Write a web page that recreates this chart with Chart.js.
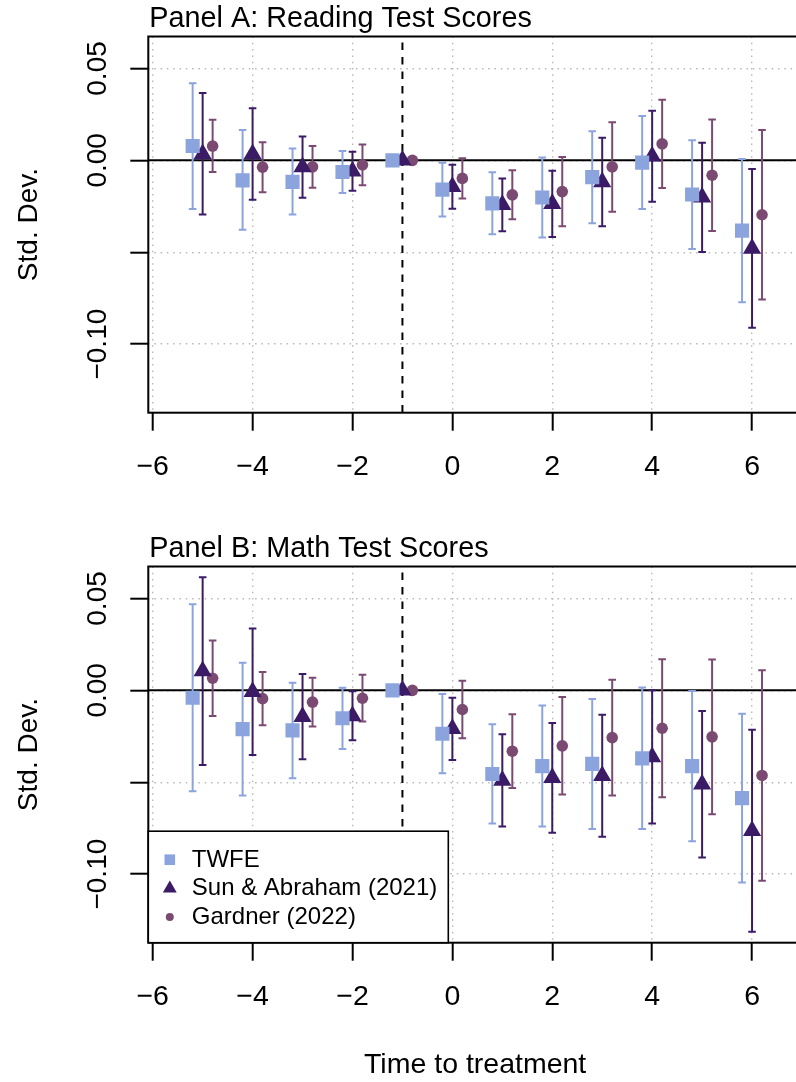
<!DOCTYPE html>
<html>
<head>
<meta charset="utf-8">
<script src="https://cdn.jsdelivr.net/npm/chart.js@4.4.1/dist/chart.umd.min.js"></script>
<style>
  html, body { margin: 0; padding: 0; background: #fff; overflow: hidden; }
  body { width: 796px; height: 1082px; position: relative; }
  .panel { position: absolute; left: 0; width: 830px; }
  #panelA { top: 0; height: 530px; }
  #panelB { top: 530px; height: 552px; }
</style>
</head>
<body>
<div class="panel" id="panelA"><canvas id="chartA" width="830" height="530"></canvas></div>
<div class="panel" id="panelB"><canvas id="chartB" width="830" height="552"></canvas></div>
<script>
// event time relative to treatment; -1 is the omitted reference period
const PERIODS = [-5, -4, -3, -2, -1, 0, 1, 2, 3, 4, 5, 6];
const REF_PERIOD = -1;

const X_TICKS = [-6, -4, -2, 0, 2, 4, 6];
const X_TICK_LABELS = ["\u22126", "\u22124", "\u22122", "0", "2", "4", "6"];
const Y_TICKS = [0.05, 0, -0.05, -0.10];
const Y_TICK_LABELS = ["0.05", "0.00", "", "\u22120.10"];

const SERIES_NAMES = ["TWFE", "Sun & Abraham (2021)", "Gardner (2022)"];

// Panel A: reading
const readTwfeEst = [0.0078, -0.0109, -0.0117, -0.0063, 0, -0.0159, -0.0234, -0.0202, -0.0091, -0.0012, -0.0186, -0.0382];
const readTwfeLo  = [-0.0264, -0.0377, -0.0295, -0.0178, null, -0.0306, -0.0402, -0.0420, -0.0342, -0.0264, -0.0482, -0.0772];
const readTwfeHi  = [0.0420, 0.0165, 0.0065, 0.0051, null, -0.0013, -0.0065, 0.0016, 0.0159, 0.0241, 0.0110, 0.0007];
const readSaEst = [0.0035, 0.0035, -0.0036, -0.0059, 0, -0.0143, -0.0242, -0.0236, -0.0118, 0.0023, -0.0201, -0.0479];
const readSaLo  = [-0.0295, -0.0214, -0.0203, -0.0165, null, -0.0263, -0.0386, -0.0417, -0.0359, -0.0225, -0.0498, -0.0911];
const readSaHi  = [0.0366, 0.0284, 0.0130, 0.0047, null, -0.0024, -0.0098, -0.0056, 0.0123, 0.0270, 0.0096, -0.0047];
const readGardEst = [0.0078, -0.0037, -0.0035, -0.0024, 0, -0.0098, -0.0188, -0.0170, -0.0035, 0.0090, -0.0081, -0.0296];
const readGardLo  = [-0.0063, -0.0174, -0.0149, -0.0136, null, -0.0207, -0.0321, -0.0359, -0.0279, -0.0150, -0.0384, -0.0757];
const readGardHi  = [0.0221, 0.0098, 0.0078, 0.0087, null, 0.0011, -0.0054, 0.0018, 0.0208, 0.0330, 0.0223, 0.0165];

// Panel B: math
const mathTwfeEst = [-0.0040, -0.0211, -0.0218, -0.0152, 0, -0.0236, -0.0455, -0.0412, -0.0400, -0.0370, -0.0412, -0.0586];
const mathTwfeLo  = [-0.0549, -0.0572, -0.0478, -0.0319, null, -0.0451, -0.0725, -0.0741, -0.0754, -0.0755, -0.0821, -0.1045];
const mathTwfeHi  = [0.0469, 0.0150, 0.0042, 0.0014, null, -0.0020, -0.0185, -0.0083, -0.0047, 0.0016, -0.0004, -0.0127];
const mathSaEst = [0.0105, -0.0007, -0.0143, -0.0139, 0, -0.0209, -0.0490, -0.0476, -0.0465, -0.0362, -0.0511, -0.0764];
const mathSaLo  = [-0.0406, -0.0351, -0.0375, -0.0272, null, -0.0379, -0.0741, -0.0775, -0.0797, -0.0725, -0.0909, -0.1313];
const mathSaHi  = [0.0616, 0.0337, 0.0089, -0.0005, null, -0.0040, -0.0239, -0.0178, -0.0132, 0.0000, -0.0112, -0.0214];
const mathGardEst = [0.0066, -0.0045, -0.0064, -0.0043, 0, -0.0104, -0.0331, -0.0302, -0.0257, -0.0206, -0.0253, -0.0463];
const mathGardLo  = [-0.0139, -0.0190, -0.0197, -0.0170, null, -0.0261, -0.0531, -0.0567, -0.0572, -0.0582, -0.0674, -0.1036];
const mathGardHi  = [0.0272, 0.0100, 0.0069, 0.0085, null, 0.0053, -0.0130, -0.0036, 0.0058, 0.0170, 0.0168, 0.0110];

// --- style ---
const FONT = "'Liberation Sans', Arial, Helvetica, sans-serif";
const COLORS = ["#8ba4de", "#3b1b65", "#7b4a73"];
const SHAPES = ["rect", "triangle", "circle"];
const RADII = [10, 10.5, 5.8];
const DODGE = [-0.2, 0, 0.2];
const GRID_COLOR = "#b8b8b8";

Chart.defaults.font.family = FONT;
Chart.defaults.color = "#000";

const toPoints = (est, lo, hi, shift) =>
  PERIODS.map((t, i) => ({ x: t + shift, y: est[i], lo: lo[i], hi: hi[i] }));

const makeDatasets = (groups) => groups.map((g, k) => ({
  label: SERIES_NAMES[k],
  data: toPoints(g[0], g[1], g[2], DODGE[k]),
  pointStyle: SHAPES[k],
  pointRadius: RADII[k],
  pointHoverRadius: RADII[k],
  backgroundColor: COLORS[k],
  borderColor: COLORS[k],
  borderWidth: 0,
  showLine: false,
}));

// zero line, reference period, error bars, frame, rotated y labels, title, legend
const panelDecor = {
  id: "panelDecor",
  beforeDatasetsDraw(chart) {
    const { ctx, chartArea: a, scales: { x, y } } = chart;
    ctx.save();
    ctx.beginPath();
    ctx.rect(a.left, a.top, a.right - a.left, a.bottom - a.top);
    ctx.clip();

    const y0 = y.getPixelForValue(0);
    ctx.strokeStyle = "#000";
    ctx.lineWidth = 2;
    ctx.beginPath();
    ctx.moveTo(a.left, y0);
    ctx.lineTo(a.right, y0);
    ctx.stroke();

    const xr = x.getPixelForValue(REF_PERIOD);
    ctx.setLineDash([7.5, 7]);
    ctx.lineDashOffset = -6;
    ctx.beginPath();
    ctx.moveTo(xr, a.top);
    ctx.lineTo(xr, a.bottom);
    ctx.stroke();
    ctx.setLineDash([]);

    chart.data.datasets.forEach((ds) => {
      ctx.strokeStyle = ds.borderColor;
      ctx.lineWidth = 2;
      ds.data.forEach((p) => {
        if (p.lo == null || p.hi == null) return;
        const px = x.getPixelForValue(p.x);
        const yl = y.getPixelForValue(p.lo);
        const yh = y.getPixelForValue(p.hi);
        const cap = 3.8;
        ctx.beginPath();
        ctx.moveTo(px, yl); ctx.lineTo(px, yh);
        ctx.moveTo(px - cap, yl); ctx.lineTo(px + cap, yl);
        ctx.moveTo(px - cap, yh); ctx.lineTo(px + cap, yh);
        ctx.stroke();
      });
    });
    ctx.restore();
  },
  afterDraw(chart, args, opts) {
    const { ctx, chartArea: a, scales: { y } } = chart;
    ctx.save();

    // frame
    ctx.strokeStyle = "#000";
    ctx.lineWidth = 2;
    ctx.strokeRect(a.left, a.top, a.right - a.left, a.bottom - a.top);

    // y tick labels, rotated like base R
    ctx.fillStyle = "#000";
    ctx.font = "28px " + FONT;
    ctx.textAlign = "center";
    ctx.textBaseline = "alphabetic";
    Y_TICKS.forEach((v, i) => {
      if (!Y_TICK_LABELS[i]) return;
      ctx.save();
      ctx.translate(a.left - 42, y.getPixelForValue(v));
      ctx.rotate(-Math.PI / 2);
      ctx.fillText(Y_TICK_LABELS[i], 0, 0);
      ctx.restore();
    });

    // panel title
    ctx.font = "28.8px " + FONT;
    ctx.textAlign = "left";
    ctx.fillText(opts.title, a.left + 1, a.top - 10);

    if (opts.legend) {
      const w = 300, h = 111.5;
      const lx = a.left, ly = a.bottom - h;
      ctx.fillStyle = "#fff";
      ctx.fillRect(lx, ly, w, h);
      ctx.strokeStyle = "#000";
      ctx.lineWidth = 1.6;
      ctx.strokeRect(lx, ly, w, h);
      ctx.font = "24px " + FONT;
      chart.data.datasets.forEach((ds, k) => {
        const base = ly + 35.5 + k * 28.7;
        const cx = lx + 21.5, cy = base - 7;
        ctx.fillStyle = ds.backgroundColor;
        ctx.beginPath();
        if (ds.pointStyle === "rect") {
          ctx.rect(cx - 5.3, cy - 5.3, 10.6, 10.6);
        } else if (ds.pointStyle === "triangle") {
          const r = 8;
          ctx.moveTo(cx, cy - r);
          ctx.lineTo(cx + r * 0.866, cy + r / 2);
          ctx.lineTo(cx - r * 0.866, cy + r / 2);
          ctx.closePath();
        } else {
          ctx.arc(cx, cy, 4, 0, Math.PI * 2);
        }
        ctx.fill();
        ctx.fillStyle = "#000";
        ctx.fillText(ds.label, lx + 43.5, base);
      });
    }
    ctx.restore();
  },
};

function buildConfig(groups, title, isBottom, canvasH) {
  return {
    type: "scatter",
    data: { datasets: makeDatasets(groups) },
    options: {
      responsive: false,
      animation: false,
      events: [],
      layout: { padding: { top: 36.5, left: 0, right: 28, bottom: 0 } },
      plugins: {
        legend: { display: false },
        tooltip: { enabled: false },
        panelDecor: { title: title, legend: isBottom },
      },
      scales: {
        x: {
          type: "linear",
          min: -6.088,
          max: 7.0,
          afterBuildTicks: (s) => { s.ticks = X_TICKS.map((v) => ({ value: v })); },
          afterFit: (s) => { s.height = canvasH - 412.7; },
          ticks: {
            font: { size: 28.5 },
            padding: 19,
            maxRotation: 0,
            autoSkip: false,
            callback: (v) => X_TICK_LABELS[X_TICKS.indexOf(v)],
          },
          grid: {
            color: GRID_COLOR,
            lineWidth: 1.4,
            tickLength: 18,
            tickColor: "#000",
            tickWidth: 2,
            tickBorderDash: [],
          },
          border: { display: false, dash: [1.5, 4.8] },
          title: {
            display: isBottom,
            text: "Time to treatment",
            font: { size: 28.5 },
            padding: { top: 0, bottom: 0 },
          },
        },
        y: {
          min: -0.1373,
          max: 0.0674,
          afterBuildTicks: (s) => { s.ticks = Y_TICKS.map((v) => ({ value: v })); },
          afterFit: (s) => { s.width = 148.3; },
          ticks: { display: false },
          grid: {
            color: GRID_COLOR,
            lineWidth: 1.4,
            tickLength: 18,
            tickColor: "#000",
            tickWidth: 2,
            tickBorderDash: [],
          },
          border: { display: false, dash: [1.5, 4.8] },
          title: {
            display: true,
            text: "Std. Dev.",
            font: { size: 28 },
            padding: { top: 12.5, bottom: 0 },
          },
        },
      },
    },
    plugins: [panelDecor],
  };
}

new Chart(document.getElementById("chartA"), buildConfig([
  [readTwfeEst, readTwfeLo, readTwfeHi],
  [readSaEst, readSaLo, readSaHi],
  [readGardEst, readGardLo, readGardHi],
], "Panel A: Reading Test Scores", false, 530));

new Chart(document.getElementById("chartB"), buildConfig([
  [mathTwfeEst, mathTwfeLo, mathTwfeHi],
  [mathSaEst, mathSaLo, mathSaHi],
  [mathGardEst, mathGardLo, mathGardHi],
], "Panel B: Math Test Scores", true, 552));
</script>
</body>
</html>
